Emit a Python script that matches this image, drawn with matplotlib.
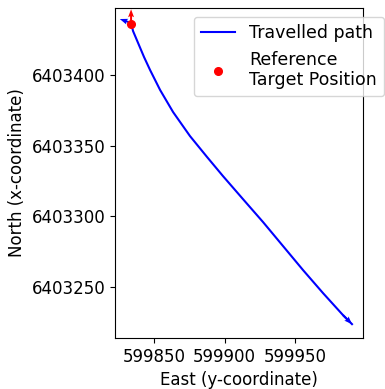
import numpy as np
import matplotlib
matplotlib.use('Agg')
import matplotlib.pyplot as plt

## data
# travelled path (east, north)
east = [599833.7, 599835.1, 599838.7, 599842.9, 599847.2, 599854.3, 599863.5,
        599875.5, 599887.6, 599898.9, 599913.1, 599927.3, 599941.5, 599955.7,
        599969.9, 599984.0, 599990.4]
north = [6403436.8, 6403431.1, 6403422.6, 6403412.7, 6403403.5, 6403389.4, 6403373.8,
         6403356.8, 6403342.0, 6403328.5, 6403312.2, 6403296.0, 6403279.0, 6403262.0,
         6403245.7, 6403230.2, 6403223.8]

# heading arrows at start and end of the path (east, north, d_east, d_north)
startArrow = [599833.7, 6403436.8, -8.0, 2.8]
endArrow = [599984.0, 6403230.2, 6.4, -6.4]

# reference target position and heading
target = [599833.7, 6403436.0]
targetArrow = [599833.7, 6403436.0, 0.0, 10.5]

## plot
fig = plt.figure(figsize=(3.85, 3.89), dpi=100)
ax = fig.add_axes([115 / 385, 1 - 338 / 389, 248 / 385, 330 / 389])

ax.plot(east, north, 'b-', label='Travelled path')
for a in [startArrow, endArrow]:
    ax.quiver(a[0], a[1], a[2], a[3], color='b', angles='xy', scale_units='xy',
              scale=1, width=0.008, headwidth=3, headlength=4, headaxislength=3.5)
ax.quiver(targetArrow[0], targetArrow[1], targetArrow[2], targetArrow[3], color='r',
          angles='xy', scale_units='xy', scale=1, width=0.008, headwidth=3,
          headlength=4, headaxislength=3.5)
ax.plot(target[0], target[1], 'ro', markersize=5.5, label='Reference\nTarget Position')

ax.set_xlim([599822.3, 599998.2])
ax.set_ylim([6403214.0, 6403447.4])
ax.set_aspect('equal', adjustable='datalim')
ax.set_xticks([599850, 599900, 599950])
ax.set_yticks([6403250, 6403300, 6403350, 6403400])
ax.ticklabel_format(useOffset=False, style='plain')
ax.tick_params(labelsize=12)
ax.set_xlabel('East (y-coordinate)', fontsize=12)
ax.set_ylabel('North (x-coordinate)', fontsize=12)

fig.legend(loc='upper right', bbox_to_anchor=(384 / 385, 1 - 17 / 389),
           fontsize=12.5, borderaxespad=0)

fig.savefig('out.png', dpi=100)
